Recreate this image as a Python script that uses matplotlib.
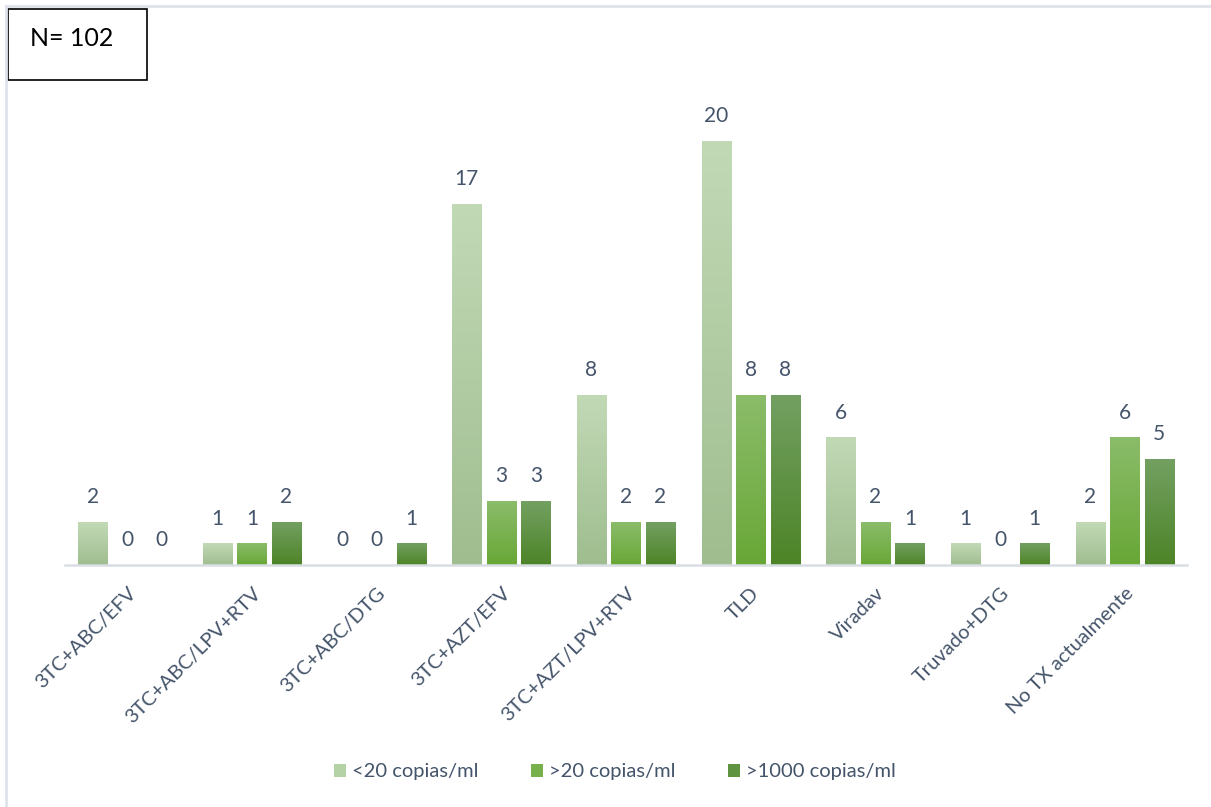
import matplotlib.pyplot as plt
import numpy as np
from matplotlib.patches import Rectangle, Patch
from matplotlib.lines import Line2D
from matplotlib.colors import LinearSegmentedColormap

plt.rcParams['font.family'] = ['Lato', 'DejaVu Sans']

categorias = ['3TC+ABC/EFV', '3TC+ABC/LPV+RTV', '3TC+ABC/DTG', '3TC+AZT/EFV',
              '3TC+AZT/LPV+RTV', 'TLD', 'Viradav', 'Truvado+DTG', 'No TX actualmente']
menos_20 = [2, 1, 0, 17, 8, 20, 6, 1, 2]
mas_20 = [0, 1, 0, 3, 2, 8, 2, 0, 6]
mas_1000 = [0, 2, 1, 3, 2, 8, 1, 1, 5]
series = ['<20 copias/ml', '>20 copias/ml', '>1000 copias/ml']

# degradado (arriba, abajo) para cada serie
degradados = [('#C2D9B6', '#9FBD8F'),
              ('#8BBC6A', '#68A736'),
              ('#73A062', '#4D8427')]
color_leyenda = ['#B5D1A6', '#77B14C', '#5F9340']
texto = '#44546A'

W, H = 1211, 807
fig = plt.figure(figsize=(W / 100, H / 100), dpi=100)

# borde gris arriba e izquierda
borde = '#DEE3EA'
fig.lines.append(Line2D([6 / W, 1], [(H - 6) / H, (H - 6) / H], transform=fig.transFigure,
                        color=borde, linewidth=2))
fig.lines.append(Line2D([6 / W, 6 / W], [0, (H - 6) / H], transform=fig.transFigure,
                        color=borde, linewidth=2))

ymax = 22
base_px, unidad_px = 565, 21.2
ax = fig.add_axes([65 / W, (H - base_px) / H, (1187 - 65) / W,
                   ymax * unidad_px / H])

x = np.arange(len(categorias))
ancho = 0.233
paso = 0.277
grad = np.linspace(0, 1, 256).reshape(-1, 1)
for i, vals in enumerate([menos_20, mas_20, mas_1000]):
    cmap = LinearSegmentedColormap.from_list('g%d' % i, [degradados[i][1], degradados[i][0]])
    pos = x + (i - 1) * paso
    barras = ax.bar(pos, vals, ancho, color='none', edgecolor='none')
    for b, v in zip(barras, vals):
        if v > 0:
            x0, y0 = b.get_x(), b.get_y()
            ax.imshow(grad, cmap=cmap, origin='lower', aspect='auto',
                      extent=(x0, x0 + b.get_width(), y0, y0 + v), zorder=2)
        ax.annotate(str(v), (b.get_x() + b.get_width() / 2, v), xytext=(0, 11),
                    textcoords='offset points', ha='center', va='bottom',
                    fontsize=15, color=texto)

ax.set_xlim(-0.5, len(categorias) - 0.5)
ax.set_ylim(0, ymax)
for s in ['top', 'right', 'left']:
    ax.spines[s].set_visible(False)
ax.spines['bottom'].set_color('#D9DEE4')
ax.spines['bottom'].set_linewidth(1.8)
ax.set_yticks([])
ax.set_xticks(x)
ax.set_xticklabels(categorias, rotation=45, ha='right', rotation_mode='anchor',
                   fontsize=14.5, color=texto)
ax.tick_params(axis='x', length=0, pad=14)

handles = [Patch(facecolor=c, edgecolor='none') for c in color_leyenda]
fig.legend(handles, series, loc='center', bbox_to_anchor=(615 / W, (H - 772) / H),
           ncol=3, frameon=False, fontsize=14.5, handlelength=0.6, handleheight=0.6,
           handletextpad=0.3, columnspacing=2.6, labelcolor=texto)

# recuadro con el total
fig.patches.append(Rectangle((8 / W, (H - 80) / H), 139 / W, 71 / H, transform=fig.transFigure,
                             fill=True, facecolor='white', edgecolor='black', linewidth=1.2))
fig.text(30 / W, (H - 38) / H, 'N= 102', fontsize=18, color='black', va='center', ha='left')

fig.savefig('out.png', dpi=100)
